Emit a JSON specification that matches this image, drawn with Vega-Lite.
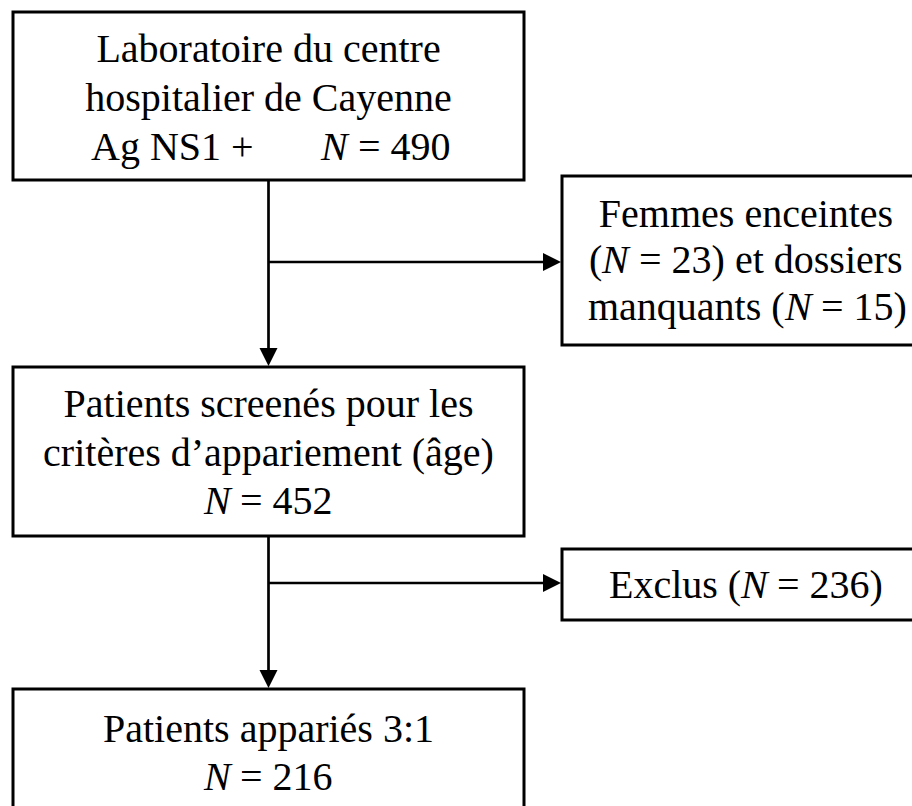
{
  "$schema": "https://vega.github.io/schema/vega-lite/v6.json",
  "width": 912,
  "height": 806,
  "autosize": {"type": "fit", "contains": "padding"},
  "padding": 0,
  "background": "white",
  "config": {
    "view": {"stroke": null},
    "text": {"font": "Liberation Serif", "fontSize": 40, "color": "black"}
  },
  "datasets": {
    "boxes": [
      {"id": "lab", "x1": 13, "x2": 524, "y1": 12, "y2": 180},
      {"id": "excl1", "x1": 562, "x2": 930, "y1": 176, "y2": 345},
      {"id": "screen", "x1": 13, "x2": 524, "y1": 367, "y2": 536},
      {"id": "excl2", "x1": 562, "x2": 930, "y1": 549, "y2": 620},
      {"id": "matched", "x1": 13, "x2": 524, "y1": 689, "y2": 840}
    ],
    "links": [
      {"x1": 268.5, "y1": 180, "x2": 268.5, "y2": 356},
      {"x1": 268.5, "y1": 262, "x2": 550, "y2": 262},
      {"x1": 268.5, "y1": 536, "x2": 268.5, "y2": 678},
      {"x1": 268.5, "y1": 583, "x2": 550, "y2": 583}
    ],
    "downHeads": [
      {"x": 268.5, "y": 366},
      {"x": 268.5, "y": 688}
    ],
    "rightHeads": [
      {"x": 561, "y": 262},
      {"x": 561, "y": 583}
    ],
    "centered": [
      {"x": 268.5, "y": 62, "text": "Laboratoire du centre"},
      {"x": 268.5, "y": 111, "text": "hospitalier de Cayenne"},
      {"x": 746, "y": 227, "text": "Femmes enceintes"},
      {"x": 268.5, "y": 417, "text": "Patients screenés pour les"},
      {"x": 268.5, "y": 466, "text": "critères d’appariement (âge)"},
      {"x": 268.5, "y": 742, "text": "Patients appariés 3:1"}
    ],
    "leftRegular": [
      {"x": 91, "y": 160, "text": "Ag NS1 +"},
      {"x": 358, "y": 160, "text": "= 490"},
      {"x": 589, "y": 273, "text": "("},
      {"x": 639, "y": 273, "text": "= 23) et dossiers"},
      {"x": 588, "y": 320, "text": "manquants ("},
      {"x": 821, "y": 320, "text": "= 15)"},
      {"x": 609, "y": 598, "text": "Exclus ("},
      {"x": 777, "y": 598, "text": "= 236)"},
      {"x": 240, "y": 514, "text": "= 452"},
      {"x": 240, "y": 790, "text": "= 216"}
    ],
    "italic": [
      {"x": 321, "y": 160, "text": "N"},
      {"x": 602, "y": 273, "text": "N"},
      {"x": 785, "y": 320, "text": "N"},
      {"x": 741, "y": 598, "text": "N"},
      {"x": 204, "y": 514, "text": "N"},
      {"x": 204, "y": 790, "text": "N"}
    ]
  },
  "layer": [
    {
      "data": {"name": "boxes"},
      "mark": {"type": "rect", "fill": "white", "stroke": "black", "strokeWidth": 3, "clip": true},
      "encoding": {
        "x": {"field": "x1", "type": "quantitative", "scale": {"domain": [0, 912], "nice": false, "zero": false}, "axis": null},
        "x2": {"field": "x2"},
        "y": {"field": "y1", "type": "quantitative", "scale": {"domain": [0, 806], "nice": false, "zero": false, "reverse": true}, "axis": null},
        "y2": {"field": "y2"}
      }
    },
    {
      "data": {"name": "links"},
      "mark": {"type": "rule", "color": "black", "strokeWidth": 2.7, "strokeCap": "butt"},
      "encoding": {
        "x": {"field": "x1", "type": "quantitative", "scale": {"domain": [0, 912], "nice": false, "zero": false}, "axis": null},
        "x2": {"field": "x2"},
        "y": {"field": "y1", "type": "quantitative", "scale": {"domain": [0, 806], "nice": false, "zero": false, "reverse": true}, "axis": null},
        "y2": {"field": "y2"}
      }
    },
    {
      "data": {"name": "downHeads"},
      "mark": {"type": "point", "shape": "M-0.5,-1L0.5,-1L0,0Z", "filled": true, "color": "black", "opacity": 1, "size": 1296, "strokeWidth": 0},
      "encoding": {
        "x": {"field": "x", "type": "quantitative", "scale": {"domain": [0, 912], "nice": false, "zero": false}, "axis": null},
        "y": {"field": "y", "type": "quantitative", "scale": {"domain": [0, 806], "nice": false, "zero": false, "reverse": true}, "axis": null}
      }
    },
    {
      "data": {"name": "rightHeads"},
      "mark": {"type": "point", "shape": "M-1,-0.5L-1,0.5L0,0Z", "filled": true, "color": "black", "opacity": 1, "size": 1296, "strokeWidth": 0},
      "encoding": {
        "x": {"field": "x", "type": "quantitative", "scale": {"domain": [0, 912], "nice": false, "zero": false}, "axis": null},
        "y": {"field": "y", "type": "quantitative", "scale": {"domain": [0, 806], "nice": false, "zero": false, "reverse": true}, "axis": null}
      }
    },
    {
      "data": {"name": "centered"},
      "mark": {"type": "text", "align": "center", "baseline": "alphabetic"},
      "encoding": {
        "x": {"field": "x", "type": "quantitative", "scale": {"domain": [0, 912], "nice": false, "zero": false}, "axis": null},
        "y": {"field": "y", "type": "quantitative", "scale": {"domain": [0, 806], "nice": false, "zero": false, "reverse": true}, "axis": null},
        "text": {"field": "text"}
      }
    },
    {
      "data": {"name": "leftRegular"},
      "mark": {"type": "text", "align": "left", "baseline": "alphabetic"},
      "encoding": {
        "x": {"field": "x", "type": "quantitative", "scale": {"domain": [0, 912], "nice": false, "zero": false}, "axis": null},
        "y": {"field": "y", "type": "quantitative", "scale": {"domain": [0, 806], "nice": false, "zero": false, "reverse": true}, "axis": null},
        "text": {"field": "text"}
      }
    },
    {
      "data": {"name": "italic"},
      "mark": {"type": "text", "align": "left", "baseline": "alphabetic", "fontStyle": "italic"},
      "encoding": {
        "x": {"field": "x", "type": "quantitative", "scale": {"domain": [0, 912], "nice": false, "zero": false}, "axis": null},
        "y": {"field": "y", "type": "quantitative", "scale": {"domain": [0, 806], "nice": false, "zero": false, "reverse": true}, "axis": null},
        "text": {"field": "text"}
      }
    }
  ]
}
